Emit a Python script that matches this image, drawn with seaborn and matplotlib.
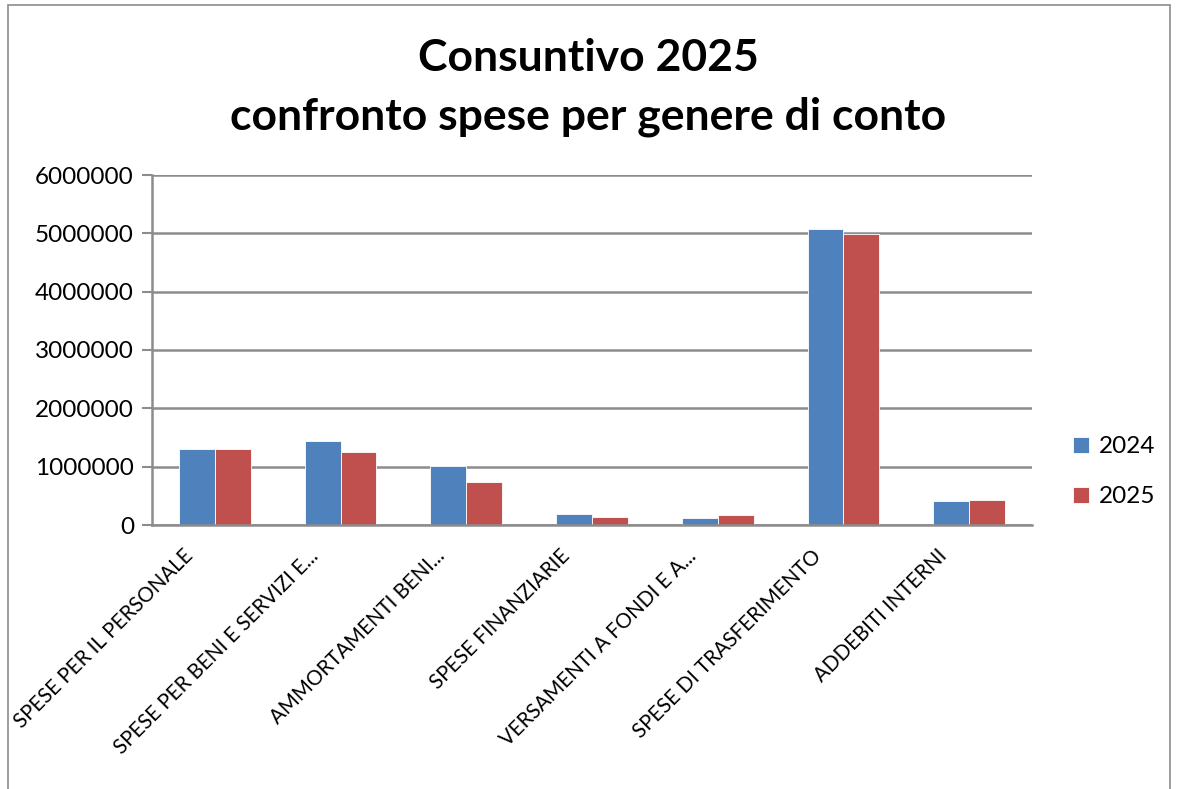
import pandas as pd
import matplotlib.pyplot as plt
import matplotlib.transforms as mtransforms
import seaborn as sns
from matplotlib.patches import Rectangle

# dati
categorie = ['SPESE PER IL PERSONALE', 'SPESE PER BENI E SERVIZI E...',
             'AMMORTAMENTI BENI...', 'SPESE FINANZIARIE',
             'VERSAMENTI A FONDI E A...', 'SPESE DI TRASFERIMENTO',
             'ADDEBITI INTERNI']
spese_2024 = [1303000, 1445000, 1011000, 189000, 120000, 5074000, 411000]
spese_2025 = [1303000, 1246000, 731000, 143000, 177000, 4989000, 429000]
anni = ['2024', '2025']
colori = ['#4F81BD', '#C0504D']

df = pd.DataFrame({
    'categoria': categorie * 2,
    'anno': [anni[0]] * len(categorie) + [anni[1]] * len(categorie),
    'spesa': spese_2024 + spese_2025,
})

sns.set_style('white')
plt.rcParams['font.family'] = ['Lato', 'DejaVu Sans']
plt.rcParams['text.color'] = 'black'
plt.rcParams['xtick.color'] = 'black'
plt.rcParams['ytick.color'] = 'black'

fig = plt.figure(figsize=(11.77, 7.89), dpi=100)
ax = fig.add_axes([152 / 1177, 1 - 525 / 789, 880 / 1177, 350 / 789])

sns.barplot(data=df, x='categoria', y='spesa', hue='anno', order=categorie,
            palette=colori, width=0.57, saturation=1, ax=ax,
            edgecolor='white', linewidth=0.6)

ax.set_ylim(0, 6000000)
ax.set_xlim(-0.5, len(categorie) - 0.5)
ax.set_yticks(range(0, 6000001, 1000000))
ax.set_yticklabels([str(v) for v in range(0, 6000001, 1000000)], fontsize=17.5)
ax.yaxis.grid(True, color='#8C8C8C', linewidth=1.8)
ax.set_axisbelow(True)
ax.set_xlabel('')
ax.set_ylabel('')

# etichette asse x ruotate, tacche tra le categorie
ax.set_xticks(range(len(categorie)))
ax.set_xticklabels(categorie, rotation=45, ha='right', rotation_mode='anchor', fontsize=14.8)
ax.set_xticks([i - 0.5 for i in range(len(categorie) + 1)], minor=True)
ax.tick_params(axis='x', which='major', length=0, pad=15)
ax.tick_params(axis='x', which='minor', length=7, width=1.5, color='#8C8C8C')
ax.tick_params(axis='y', length=7, width=1.5, color='#8C8C8C', labelcolor='black', left=True, pad=6)

# sposto le etichette verso sinistra come nell'originale
sposta = mtransforms.ScaledTranslation(-0.32, 0, fig.dpi_scale_trans)
for lab in ax.get_xticklabels():
    lab.set_transform(lab.get_transform() + sposta)

for lato in ['top', 'right']:
    ax.spines[lato].set_visible(False)
for lato in ['left', 'bottom']:
    ax.spines[lato].set_color('#8C8C8C')
    ax.spines[lato].set_linewidth(1.8)

leg = ax.legend(loc='center left', bbox_to_anchor=(1.022, 0.152), frameon=False,
                fontsize=17.5, handlelength=0.65, handleheight=0.65,
                labelspacing=1.2, handletextpad=0.4)

fig.text(0.5, 1 - 58 / 789, 'Consuntivo 2025', ha='center', va='center',
         fontsize=32, fontweight='bold')
fig.text(0.5, 1 - 117 / 789, 'confronto spese per genere di conto', ha='center',
         va='center', fontsize=32, fontweight='bold')

# cornice del grafico
fig.patches.append(Rectangle((8 / 1177, -0.05), (1170 - 8) / 1177, 1 - 5 / 789 + 0.05,
                             transform=fig.transFigure, fill=False,
                             edgecolor='#8C8C8C', linewidth=1.2))

fig.savefig('out.png', dpi=100)
